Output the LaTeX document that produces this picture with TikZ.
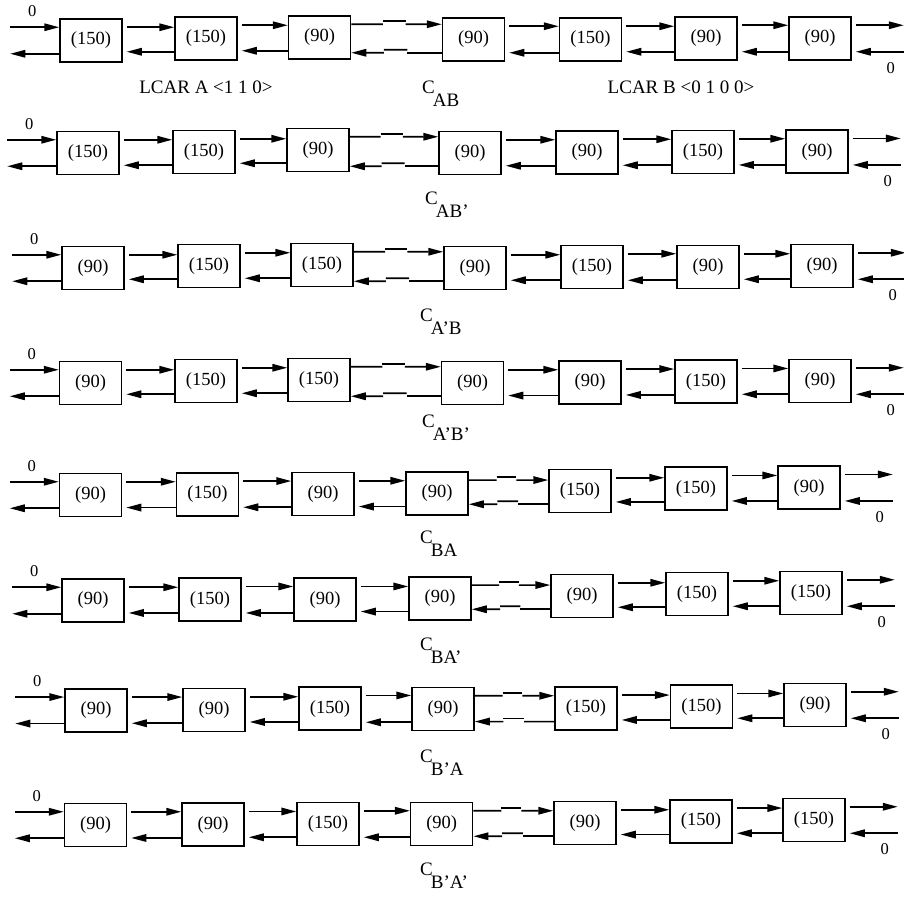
\documentclass[tikz,border=0pt]{standalone}
\usepackage{fontspec}
\setmainfont{Liberation Serif}
\usetikzlibrary{arrows.meta, calc}
\tikzset{
  cell/.style = {draw, line width=1.5pt, minimum width=62pt, minimum height=43pt,
                 inner sep=0pt, font=\fontsize{18.5}{21}\selectfont},
  flow/.style = {-{Triangle[length=15pt, width=7.5pt]}, line width=1.6pt},
  link/.style = {line width=1.6pt},
  zero/.style = {inner sep=0pt, font=\fontsize{16.5}{18}\selectfont},
  tag/.style  = {inner sep=0pt, font=\fontsize{19}{22}\selectfont},
}

\begin{document}
\begin{tikzpicture}[x=1pt, y=-1pt]
  \useasboundingbox (0,0) rectangle (904,900);
  % one row per configuration: name / label pos / junction / cells
  \foreach \r/\nm/\lx/\ly/\jn/\cells in {
    1/AB/422/93/3/{91/40.5/150, 206/38.5/150, 319.5/37.5/90, 473.5/39.5/90, 590.5/39.5/150, 706/38.5/90, 820/38.5/90},
    2/AB'/425/204/3/{88/153/150, 204/152/150, 318/150/90, 470/153/90, 587/152.5/90, 703/152/150, 817/151.7/90},
    3/A'B/420/321/3/{93/268/90, 209/266/150, 322/265/150, 475/268/90, 592/267/150, 708/267/90, 822/266/90},
    4/A'B'/422/427/3/{90.5/383/90, 206/381/150, 319/380/150, 472.5/383/90, 590/382.3/90, 706/381.7/150, 820/381/90},
    5/BA/420/543/4/{90.5/495/90, 207.5/494.3/150, 323/494/90, 437/493.3/90, 580/491/150, 696/488.7/150, 809/487.7/90},
    6/BA'/420/650/4/{93/600.5/90, 210/599.7/150, 325/599.7/90, 440/598.3/90, 582/596/90, 697/594/150, 811/593/150},
    7/B'A/420/762/4/{96/710.3/90, 214/710/90, 330/708.7/150, 443/709/90, 586/708.3/150, 701.5/706.7/150, 815/705/90},
    8/B'A'/420/875/4/{95.5/825/90, 213/824.7/90, 328/824/150, 441.7/824/90, 585/823/90, 701/821.3/150, 814/820/150}} {
    % cells
    \foreach \x/\y/\val [count=\i] in \cells
      \node[cell] (b\r-\i) at (\x,\y) {(\val)};
    % links between neighbours
    \foreach \i in {1,...,6} {
      \pgfmathtruncatemacro\nx{\i+1}
      \coordinate (t1) at ([yshift=-9pt]b\r-\i.north east);
      \coordinate (t2) at (t1 -| b\r-\nx.west);
      \coordinate (u2) at ([yshift=9pt]b\r-\nx.south west);
      \coordinate (u1) at (u2 -| b\r-\i.east);
      \ifnum\i=\jn
        \draw[link] (t1) -- ($(t1)!.35!(t2)$);
        \draw[link] ($(t1)!.35!(t2)+(0pt,3pt)$) -- ($(t1)!.6!(t2)+(0pt,3pt)$);
        \draw[flow] ($(t1)!.6!(t2)$) -- (t2);
        \draw[link] (u2) -- ($(u2)!.38!(u1)$);
        \draw[link] ($(u2)!.38!(u1)+(0pt,3pt)$) -- ($(u2)!.64!(u1)+(0pt,3pt)$);
        \draw[flow] ($(u2)!.64!(u1)$) -- (u1);
      \else
        \draw[flow] ([xshift=4pt]t1) -- (t2);
        \draw[flow] (u2) -- ([xshift=4pt]u1);
      \fi
    }
    % open ends
    \coordinate (in\r) at ([xshift=-49pt,yshift=-9pt]b\r-1.north west);
    \coordinate (out\r) at ([xshift=-49pt,yshift=9pt]b\r-1.south west);
    \coordinate (rout\r) at ([xshift=52pt,yshift=-9pt]b\r-7.north east);
    \coordinate (rin\r) at ([xshift=52pt,yshift=9pt]b\r-7.south east);
    \coordinate (re\r) at ([xshift=4pt]b\r-7.east);
    \draw[flow] (in\r) -- (in\r -| b\r-1.west);
    \draw[flow] (out\r -| b\r-1.west) -- (out\r);
    \draw[flow] (rout\r -| re\r) -- (rout\r);
    \draw[flow] (rin\r) -- (rin\r -| re\r);
    \node[zero] (zl\r) at ([xshift=22pt,yshift=16pt]in\r) {0};
    \node[zero] (zr\r) at ([xshift=-13pt,yshift=-16pt]rin\r) {0};
    \node[tag, anchor=base west] (c\r) at (\lx,\ly) {C\kern-2pt\raisebox{-13pt}{\nm}};
  }
  \node[tag, anchor=base] (lcarA) at (206,93) {LCAR A <1 1 0>};
  \node[tag, anchor=base] (lcarB) at (681,93) {LCAR B <0 1 0 0>};
\end{tikzpicture}
\end{document}
